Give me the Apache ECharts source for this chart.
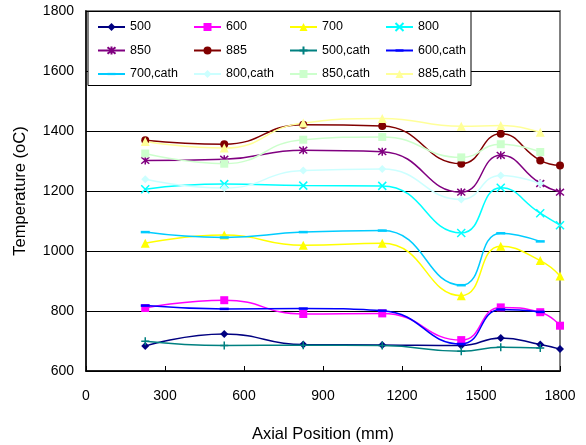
<!DOCTYPE html>
<html>
<head>
<meta charset="utf-8">
<script src="https://cdn.jsdelivr.net/npm/echarts@6/dist/echarts.min.js"></script>
<style>
html,body{margin:0;padding:0;background:#fff;}
#chart{width:586px;height:445px;}
</style>
</head>
<body>
<div id="chart"></div>
<script>
// Axial positions (mm)
var positions = [225, 525, 825, 1125, 1425, 1575, 1725, 1800];
var seriesNames = ['500','600','700','800','850','885','500,cath','600,cath','700,cath','800,cath','850,cath','885,cath'];

// Temperatures (oC)
var t500 = [683, 723, 688, 687, 685, 710, 688, 673];
var t600 = [810, 836, 790, 792, 703, 812, 796, 751];
var t700 = [1026, 1053, 1019, 1026, 851, 1016, 968, 917];
var t800 = [1206, 1223, 1218, 1217, 1060, 1211, 1126, 1086];
var t850 = [1302, 1306, 1336, 1331, 1196, 1319, 1225, 1196];
var t885 = [1369, 1356, 1421, 1417, 1291, 1391, 1302, 1285];
var t500cath = [699, 685, 686, 685, 666, 679, 677];
var t600cath = [818, 807, 808, 801, 690, 805, 797];
var t700cath = [1063, 1045, 1063, 1068, 886, 1059, 1032];
var t800cath = [1239, 1210, 1268, 1273, 1172, 1252, 1225];
var t850cath = [1325, 1291, 1371, 1380, 1312, 1356, 1330];
var t885cath = [1365, 1343, 1427, 1442, 1416, 1418, 1396];

var allValues = [t500, t600, t700, t800, t850, t885, t500cath, t600cath, t700cath, t800cath, t850cath, t885cath];

var colors = ['#000080','#FF00FF','#FFFF00','#00FFFF','#800080','#800000','#008080','#0000FF','#00CCFF','#CCFFFF','#CCFFCC','#FFFF99'];
var PX = 'path://M0,0L10,10M10,0L0,10';
var PSTAR = 'path://M0,0L10,10M10,0L0,10M5,-1L5,11';
var PPLUS = 'path://M5,0L5,10M0,5L10,5';
var PDASH = 'path://M0,0M10,10M0,3.6L10,3.6L10,6.4L0,6.4Z';
var symbols = ['diamond','rect','triangle',PX,PSTAR,'circle',PPLUS,PDASH,PDASH,'diamond','rect','triangle'];
var symbolSizes = [8,8,9,8,8,8,8,9,9,8,8,9];
var stroked = [false,false,false,true,true,false,true,false,false,false,false,false];

function pairs(vals){
  var out = [];
  for (var i = 0; i < vals.length; i++) out.push([positions[i], vals[i]]);
  return out;
}

var series = seriesNames.map(function(name, i){
  var item = {color: colors[i]};
  if (stroked[i]) { item.borderColor = colors[i]; item.borderWidth = 1.5; }
  return {
    name: name,
    type: 'line',
    smooth: 0.5,
    data: pairs(allValues[i]),
    symbol: symbols[i],
    symbolSize: symbolSizes[i],
    showAllSymbol: true,
    lineStyle: {color: colors[i], width: 1.5},
    itemStyle: item,
    emphasis: {disabled: true},
    z: 2
  };
});

var legendCols = [
  ['500','850','700,cath'],
  ['600','885','800,cath'],
  ['700','500,cath','850,cath'],
  ['800','600,cath','885,cath']
];
var colX = [97, 193, 289, 385];
var legends = legendCols.map(function(col, i){
  return {
    data: col,
    orient: 'vertical',
    left: colX[i],
    top: 20,
    padding: 0,
    itemWidth: 27,
    itemHeight: 10,
    itemGap: 9.5,
    selectedMode: false,
    z: 30,
    textStyle: {fontFamily: 'Liberation Sans, Arial, sans-serif', fontSize: 12.5, color: '#000', lineHeight: 14, padding: [0,0,0,0]}
  };
});

function plain(v){ return String(v); }

var chart = echarts.init(document.getElementById('chart'), null, {renderer: 'canvas'});
chart.setOption({
  animation: false,
  backgroundColor: '#fff',
  textStyle: {fontFamily: 'Liberation Sans, Arial, sans-serif'},
  grid: {left: 86, right: 26, top: 11, bottom: 74, containLabel: false, outerBoundsMode: 'none', show: true, borderColor: '#808080', borderWidth: 2, backgroundColor: '#fff'},
  legend: legends,
  graphic: [{
    type: 'rect',
    z: 20,
    shape: {x: 88, y: 11.5, width: 383, height: 74},
    style: {fill: '#fff', stroke: '#000', lineWidth: 1}
  }],
  xAxis: {
    type: 'value',
    min: 0, max: 1800, interval: 300,
    name: 'Axial Position (mm)',
    nameLocation: 'middle',
    nameGap: 55,
    nameTextStyle: {fontSize: 16.5, color: '#000'},
    axisLine: {lineStyle: {color: '#000', width: 1.5}},
    axisTick: {inside: true, length: 5, lineStyle: {color: '#000'}},
    axisLabel: {fontSize: 14, color: '#000', margin: 18, formatter: plain},
    splitLine: {show: false}
  },
  yAxis: {
    type: 'value',
    min: 600, max: 1800, interval: 200,
    name: 'Temperature (oC)',
    nameLocation: 'middle',
    nameGap: 57,
    nameTextStyle: {fontSize: 16.5, color: '#000'},
    axisLine: {show: true, lineStyle: {color: '#000', width: 1.5}},
    axisTick: {show: true, inside: true, length: 5, lineStyle: {color: '#000'}},
    axisLabel: {fontSize: 14, color: '#000', margin: 12, formatter: plain},
    splitLine: {show: true, lineStyle: {color: '#000', width: 1}}
  },
  series: series
});
</script>
</body>
</html>
